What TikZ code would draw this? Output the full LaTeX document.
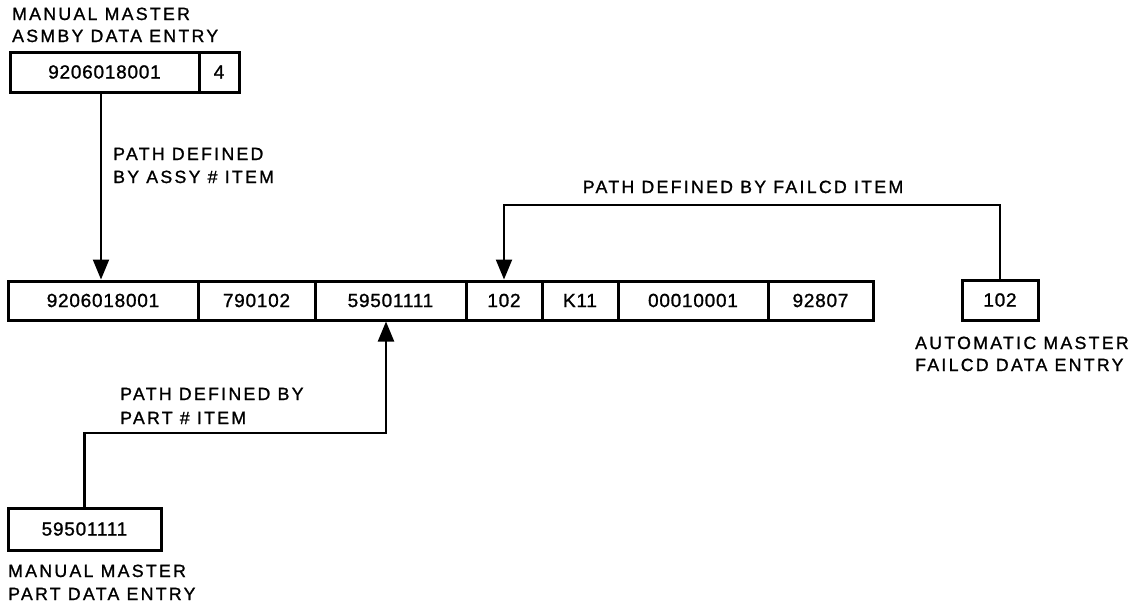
\documentclass[tikz,border=0pt]{standalone}
\usepackage{fontspec}
\setmainfont{Liberation Sans}
\newfontfamily\lblfamily[LetterSpace=13,FakeBold=1.2]{Liberation Sans}
\newfontfamily\digfamily[LetterSpace=4,FakeBold=1.2]{Liberation Sans}
\usetikzlibrary{arrows.meta}
\tikzset{
  cell/.style={draw, line width=3pt, minimum height=39pt, inner sep=0pt,
    font={\digfamily\fontsize{19}{22}\selectfont}},
  lbl/.style={anchor=base west, inner sep=0pt,
    font={\lblfamily\fontsize{17.7}{21}\selectfont}},
  lblc/.style={lbl, anchor=base},
  con/.style={line width=2.2pt},
  arr/.style={con, -{Triangle[length=20pt,width=16pt]}}
}
\begin{document}
\begin{tikzpicture}[x=1pt,y=-1pt]
\useasboundingbox (0,0) rectangle (1146,603);
% top entry
\node[cell, minimum width=189pt, minimum height=40pt] (ta) at (104.5,72) {9206018001};
\node[cell, minimum width=40pt, minimum height=40pt] (tb) at (219,72) {4};
\node[lbl] (la1) at (12,20) {MANUAL MASTER};
\node[lbl] (la2) at (12,42) {ASMBY DATA ENTRY};
% main record
\node[cell, minimum width=190pt] (c1) at (103,300.5) {9206018001};
\node[cell, minimum width=117pt] (c2) at (256.5,300.5) {790102};
\node[cell, minimum width=151pt] (c3) at (390.5,300.5) {59501111};
\node[cell, minimum width=76pt] (c4) at (504,300.5) {102};
\node[cell, minimum width=76pt] (c5) at (580,300.5) {K11};
\node[cell, minimum width=150pt] (c6) at (693,300.5) {00010001};
\node[cell, minimum width=105pt] (c7) at (820.5,300.5) {92807};
% failcd entry
\node[cell, minimum width=76pt, minimum height=40pt] (f) at (1000,300) {102};
\node[lbl] (lf1) at (915,349) {AUTOMATIC MASTER};
\node[lbl] (lf2) at (915,371) {FAILCD DATA ENTRY};
% part entry
\node[cell, minimum width=153pt, minimum height=42pt] (p) at (84.5,529) {59501111};
\node[lbl] (lp1) at (8,577) {MANUAL MASTER};
\node[lbl] (lp2) at (8,600) {PART DATA ENTRY};
% path labels
\node[lbl] (pa1) at (113,160) {PATH DEFINED};
\node[lbl] (pa2) at (113,183) {BY ASSY \# ITEM};
\node[lblc] (pf) at (743,193) {PATH DEFINED BY FAILCD ITEM};
\node[lbl] (pp1) at (120,400) {PATH DEFINED BY};
\node[lbl] (pp2) at (120,424) {PART \# ITEM};
% connectors
\coordinate (fy) at (1000,205);
\coordinate (py) at (84,433);
\draw[arr] ([xshift=-2pt]c1.north |- ta.south) -- ([xshift=-2pt]c1.north);
\draw[arr] (f.north) -- (f.north |- fy) -| (c4.north);
\draw[arr] (p.north) -- (p.north |- py) -| ([xshift=-4.5pt]c3.south);
\end{tikzpicture}
\end{document}
